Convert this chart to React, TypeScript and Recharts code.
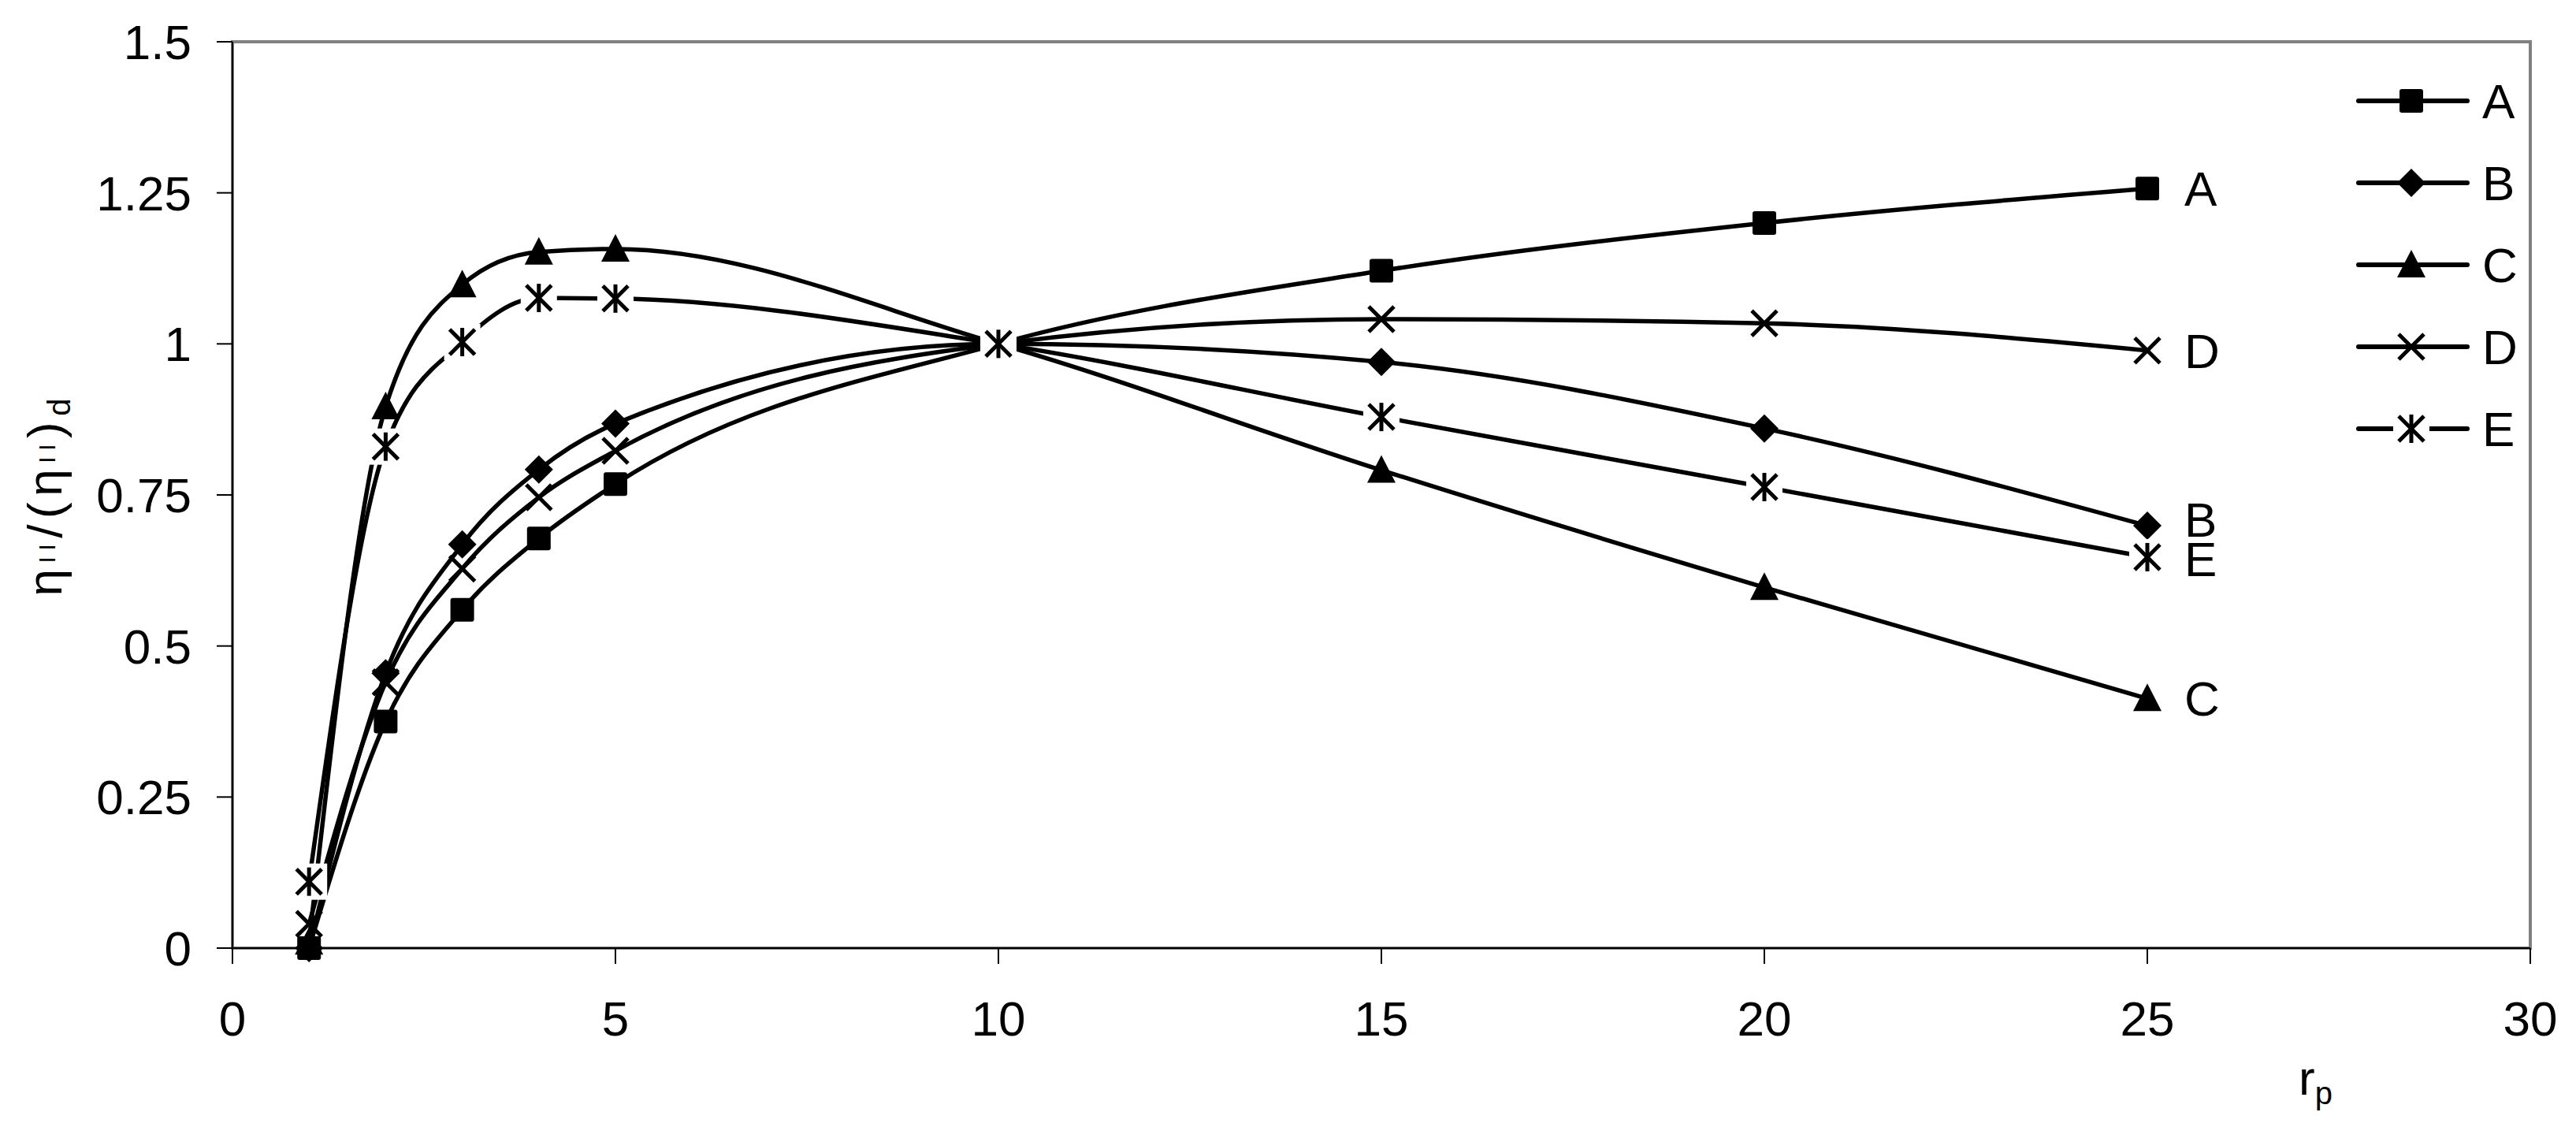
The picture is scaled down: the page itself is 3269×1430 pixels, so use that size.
import React from "react"
import { LineChart, Line, XAxis, YAxis, ReferenceArea, Legend, LabelList } from "recharts"

// pressure ratio values on the x axis
const rp = [1, 2, 3, 4, 5, 10, 15, 20, 25]

// normalised second-law efficiency, one list per curve
const seriesA = [0, 0.375, 0.56, 0.678, 0.768, 1, 1.121, 1.2, 1.257]
const seriesB = [0, 0.455, 0.668, 0.792, 0.868, 1, 0.97, 0.86, 0.699]
const seriesC = [0.01, 0.896, 1.098, 1.152, 1.157, 1, 0.791, 0.597, 0.413]
const seriesD = [0.04, 0.44, 0.628, 0.746, 0.823, 1, 1.041, 1.034, 0.989]
const seriesE = [0.11, 0.83, 1.003, 1.076, 1.075, 1, 0.879, 0.763, 0.647]

const xTicks = [0, 5, 10, 15, 20, 25, 30]
const yTicks = [0, 0.25, 0.5, 0.75, 1, 1.25, 1.5]

type Shape = "square" | "diamond" | "triangle" | "cross" | "star"

const series: { name: string; values: number[]; shape: Shape; labelShift: number }[] = [
  { name: "A", values: seriesA, shape: "square", labelShift: 0 },
  { name: "B", values: seriesB, shape: "diamond", labelShift: -8 },
  { name: "C", values: seriesC, shape: "triangle", labelShift: 0 },
  { name: "D", values: seriesD, shape: "cross", labelShift: 0 },
  { name: "E", values: seriesE, shape: "star", labelShift: 2 },
]

const rows = rp.map((x, i) => {
  const row: Record<string, number> = { rp: x }
  series.forEach((s) => {
    row[s.name] = s.values[i]
  })
  return row
})

const FONT = "'Liberation Sans', Arial, sans-serif"
const FS = 62

function Marker({ shape, cx, cy }: { shape: Shape; cx: number; cy: number }) {
  if (shape === "square") {
    return <rect x={cx - 15} y={cy - 15} width={30} height={30} rx={3} fill="#000" />
  }
  if (shape === "diamond") {
    return <polygon points={`${cx},${cy - 18} ${cx + 18},${cy} ${cx},${cy + 18} ${cx - 18},${cy}`} fill="#000" />
  }
  if (shape === "triangle") {
    return <polygon points={`${cx},${cy - 19} ${cx + 18},${cy + 16} ${cx - 18},${cy + 16}`} fill="#000" strokeLinejoin="round" />
  }
  if (shape === "cross") {
    return (
      <g stroke="#000" strokeWidth={5}>
        <line x1={cx - 16} y1={cy - 16} x2={cx + 16} y2={cy + 16} />
        <line x1={cx - 16} y1={cy + 16} x2={cx + 16} y2={cy - 16} />
      </g>
    )
  }
  return (
    <g>
      <rect x={cx - 23} y={cy - 23} width={46} height={46} fill="#fff" />
      <g stroke="#000" strokeWidth={5}>
        <line x1={cx - 16} y1={cy - 16} x2={cx + 16} y2={cy + 16} />
        <line x1={cx - 16} y1={cy + 16} x2={cx + 16} y2={cy - 16} />
        <line x1={cx} y1={cy - 18} x2={cx} y2={cy + 18} />
      </g>
    </g>
  )
}

function LegendBox() {
  return (
    <svg width={300} height={520}>
      {series.map((s, i) => {
        const y = 48 + i * 104
        return (
          <g key={s.name}>
            <line x1={33} x2={171} y1={y} y2={y} stroke="#000" strokeWidth={6} strokeLinecap="round" />
            <Marker shape={s.shape} cx={100} cy={y} />
            <text x={190} y={y} dy="0.355em" fontSize={FS} fontFamily={FONT} fill="#000">
              {s.name}
            </text>
          </g>
        )
      })}
    </svg>
  )
}

function YLabel() {
  const cx = 48
  const cy = 623
  return (
    <text
      x={cx}
      y={cy}
      transform={`rotate(-90 ${cx} ${cy})`}
      textAnchor="middle"
      dy="0.35em"
      fontSize={FS}
      fontFamily={FONT}
      fill="#000"
      textLength={251}
      lengthAdjust="spacing"
    >
      <tspan>η</tspan>
      <tspan fontSize={30} dy={-8}>II</tspan>
      <tspan dy={8}>/(η</tspan>
      <tspan fontSize={30} dy={-8}>II</tspan>
      <tspan dy={8}>)</tspan>
      <tspan fontSize={40} dy={11}>d</tspan>
    </text>
  )
}

function XLabel() {
  return (
    <text x={2909} y={1381} fontSize={FS} fontFamily={FONT} fill="#000">
      <tspan>r</tspan>
      <tspan fontSize={40} dy={12}>p</tspan>
    </text>
  )
}

export default function App() {
  const last = rp.length - 1
  return (
    <div style={{ background: "#fff" }}>
      <LineChart width={3261} height={1422} data={rows} margin={{ top: 45, right: 58, left: 0, bottom: 0 }}>
        <ReferenceArea x1={0} x2={30} y1={0} y2={1.5} fill="#fff" fillOpacity={0} stroke="#808080" strokeWidth={4} />
        <XAxis
          dataKey="rp"
          type="number"
          domain={[0, 30]}
          ticks={xTicks}
          interval={0}
          height={227}
          tickSize={20}
          tickMargin={47}
          axisLine={{ stroke: "#000", strokeWidth: 2 }}
          tickLine={{ stroke: "#000", strokeWidth: 2 }}
          tick={{ fill: "#000", fontSize: FS, fontFamily: FONT }}
          label={<XLabel />}
        />
        <YAxis
          type="number"
          domain={[0, 1.5]}
          ticks={yTicks}
          interval={0}
          width={287}
          tickSize={20}
          tickMargin={32}
          axisLine={{ stroke: "#000", strokeWidth: 2 }}
          tickLine={{ stroke: "#000", strokeWidth: 2 }}
          tick={{ fill: "#000", fontSize: FS, fontFamily: FONT }}
          label={<YLabel />}
        />
        <Legend
          layout="horizontal"
          verticalAlign="middle"
          align="center"
          wrapperStyle={{ position: "absolute", left: 2952, top: 72, width: 300, height: 520 }}
          content={() => <LegendBox />}
        />
        {series.map((s) => (
          <Line
            key={s.name}
            type="monotone"
            dataKey={s.name}
            stroke="#000"
            strokeWidth={5.5}
            isAnimationActive={false}
            activeDot={false}
            dot={(p: any) => <Marker key={`${s.name}-${p.index}`} shape={s.shape} cx={p.cx} cy={p.cy} />}
          >
            <LabelList
              dataKey={s.name}
              content={(p: any) =>
                p.index === last ? (
                  <text
                    key={`lbl-${s.name}`}
                    x={Number(p.x) + 47}
                    y={Number(p.y) + s.labelShift}
                    dy="0.355em"
                    fontSize={FS}
                    fontFamily={FONT}
                    fill="#000"
                  >
                    {s.name}
                  </text>
                ) : (
                  <g key={`lbl-${s.name}-${p.index}`} />
                )
              }
            />
          </Line>
        ))}
      </LineChart>
    </div>
  )
}
